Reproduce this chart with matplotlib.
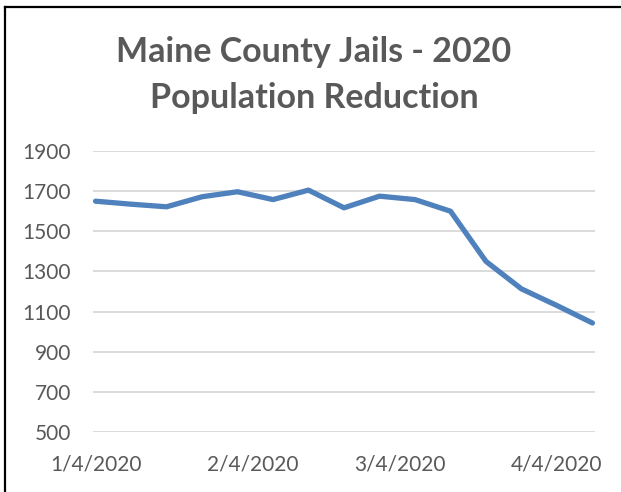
import matplotlib
matplotlib.use("Agg")
import matplotlib.pyplot as plt
import matplotlib.dates as mdates
from matplotlib.lines import Line2D
import numpy as np
import datetime as dt

# Data
dates = ["2020-01-04", "2020-01-11", "2020-01-18", "2020-01-25", "2020-02-01",
         "2020-02-08", "2020-02-15", "2020-02-22", "2020-02-29", "2020-03-07",
         "2020-03-14", "2020-03-21", "2020-03-28", "2020-04-04", "2020-04-11"]
population = [1650, 1635, 1622, 1672, 1697, 1658, 1705, 1617, 1675, 1658,
              1600, 1350, 1213, 1130, 1043]
tick_dates = ["2020-01-04", "2020-02-04", "2020-03-04", "2020-04-04"]
tick_labels = ["1/4/2020", "2/4/2020", "3/4/2020", "4/4/2020"]
y_ticks = [500, 700, 900, 1100, 1300, 1500, 1700, 1900]
title = "Maine County Jails - 2020\nPopulation Reduction"

W, H = 621, 492
fig = plt.figure(figsize=(W / 100, H / 100), dpi=100)
fig.patch.set_facecolor("white")

left, right, top, bottom = 93, 595, 151, 432
ax = fig.add_axes([left / W, 1 - bottom / H, (right - left) / W, (bottom - top) / H])

x = [dt.datetime.strptime(d, "%Y-%m-%d") for d in dates]
ax.plot(x, population, color="#4F81BD", lw=3.8, solid_joinstyle="round",
        solid_capstyle="round", zorder=3, clip_on=False)

ax.set_ylim(500, 1900)
ax.set_yticks(y_ticks)
ax.set_xlim(dt.datetime(2020, 1, 3, 12), dt.datetime(2020, 4, 11, 12))
ax.set_xticks([dt.datetime.strptime(d, "%Y-%m-%d") for d in tick_dates])
ax.set_xticklabels(tick_labels)

ax.grid(axis="y", color="#D9D9D9", lw=1.3)
ax.set_axisbelow(True)
for s in ax.spines.values():
    s.set_visible(False)
ax.tick_params(length=0, labelsize=15, labelcolor="#595959")
ax.tick_params(axis="y", pad=16)
ax.tick_params(axis="x", pad=16)
for lab in ax.get_xticklabels() + ax.get_yticklabels():
    lab.set_fontfamily("Lato")

fig.text(314 / W, 1 - 75 / H, title, ha="center", va="center",
         fontsize=24.5, fontweight="bold", color="#595959", family="Lato",
         linespacing=1.5)

# partial chart border (top and left)
fig.add_artist(Line2D([5 / W, 5 / W], [0, 1 - 6.5 / H], transform=fig.transFigure,
                      color="black", lw=1.6))
fig.add_artist(Line2D([5 / W, 1], [1 - 6.5 / H, 1 - 6.5 / H], transform=fig.transFigure,
                      color="black", lw=1.6))

fig.savefig("out.png", dpi=100, facecolor="white")
